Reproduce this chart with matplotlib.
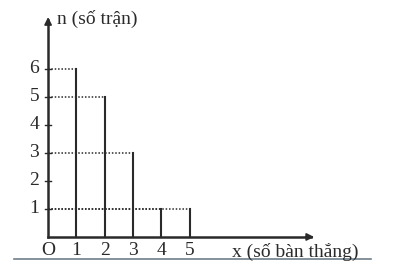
import matplotlib.pyplot as plt

# số bàn thắng / số trận
goals = [1, 2, 3, 4, 5]
matches = [6, 5, 3, 1, 1]
y_ticks = [1, 2, 3, 4, 5, 6]

plt.rcParams['font.family'] = ['Liberation Serif', 'DejaVu Serif']
ink = '#2a2a2a'

fig = plt.figure(figsize=(3.93, 2.70), dpi=100)
ax = fig.add_axes([0, 0, 1, 1])
ax.set_xlim(-1.70, 12.19)
ax.set_ylim(-1.18, 8.46)
ax.axis('off')

# axes with arrows
ax.plot([0, 0], [0, 7.75], color=ink, lw=1.8)
ax.plot([0, 9.3], [0, 0], color=ink, lw=1.8)
ax.annotate('', xy=(0, 7.95), xytext=(0, 7.5),
            arrowprops=dict(arrowstyle='-|>', color=ink, lw=1.2, mutation_scale=11))
ax.annotate('', xy=(9.5, 0), xytext=(9.0, 0),
            arrowprops=dict(arrowstyle='-|>', color=ink, lw=1.2, mutation_scale=11))

# vertical segments and dotted guides
for x, n in zip(goals, matches):
    ax.plot([x, x], [0, n], color=ink, lw=1.5)
    ax.plot([0, x], [n, n], color=ink, lw=1.1, ls=(0, (1, 1.2)))

# y ticks
for t in y_ticks:
    ax.plot([-0.1, 0.1], [t, t], color=ink, lw=1.0)
    ax.text(-0.32, t, str(t), ha='right', va='center', fontsize=14, color=ink)

for x in goals:
    ax.text(x, -0.5, str(x), ha='center', va='center', fontsize=14, color=ink)
ax.text(0, -0.5, 'O', ha='center', va='center', fontsize=14, color=ink)

ax.text(0.3, 7.8, 'n (số trận)', ha='left', va='center', fontsize=14, color=ink)
ax.text(6.5, -0.55, 'x (số bàn thắng)', ha='left', va='center', fontsize=14, color=ink)

# scan separator line
ax.plot([-1.2, 11.4], [-0.77, -0.77], color='#6f7f8a', lw=1.2)

fig.savefig('out.png', dpi=100)
